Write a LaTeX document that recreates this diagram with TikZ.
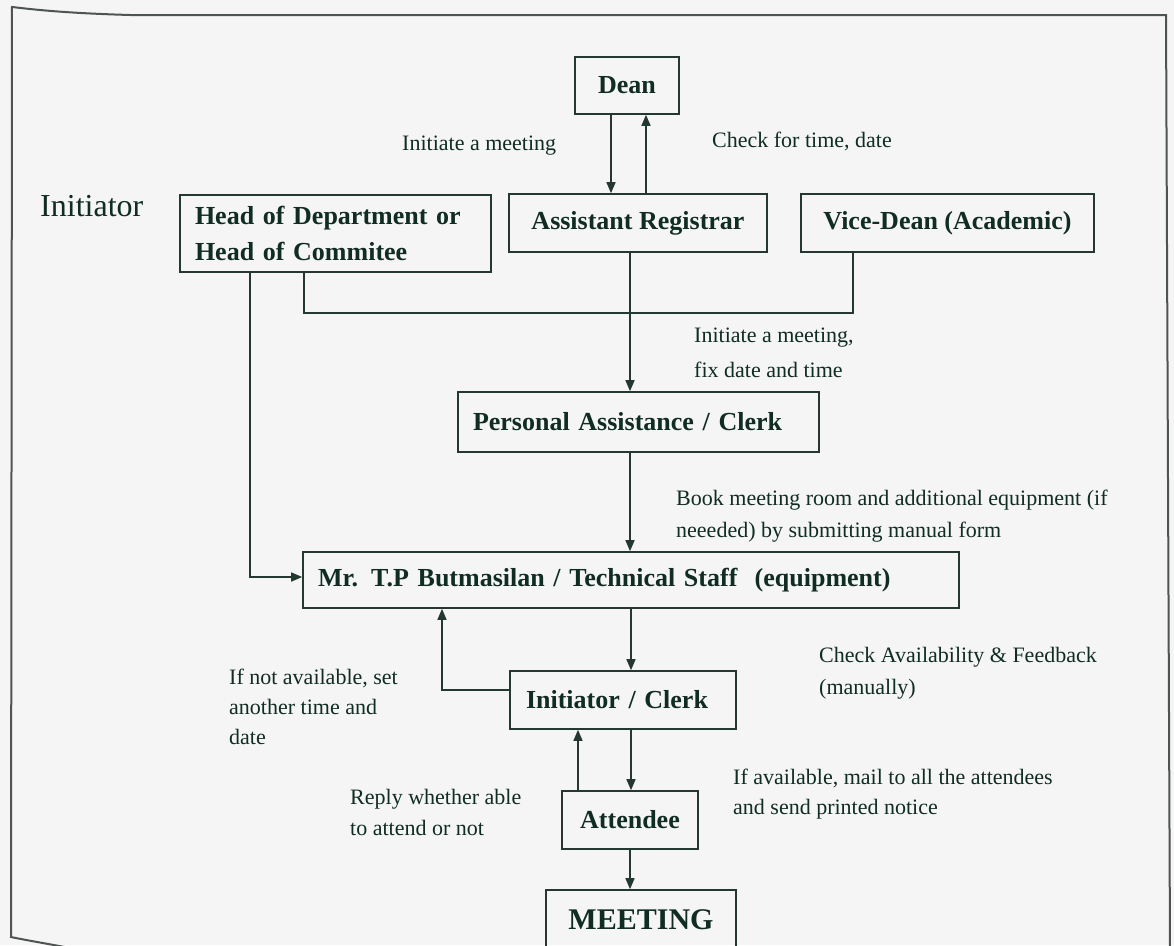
\documentclass[tikz,border=0pt]{standalone}
\usepackage{fontspec}
\setmainfont{Liberation Serif}
\usetikzlibrary{arrows.meta}

\definecolor{paper}{RGB}{244,245,244}
\definecolor{ink}{RGB}{16,44,35}
\definecolor{wire}{RGB}{36,56,48}
\definecolor{edge}{RGB}{78,84,82}

\tikzset{
  box/.style={draw=wire, line width=1.6pt, rectangle, inner ysep=0pt,
    text=ink, font=\fontsize{26}{34}\selectfont\bfseries},
  boxl/.style={box, align=left, inner xsep=15pt},
  % multi-line notes are placed by the baseline of their last line
  lbl/.style={inner sep=0pt, anchor=base west, align=left, text=ink,
    font=\fontsize{22}{32}\selectfont},
  link/.style={draw=wire, line width=1.4pt},
  arr/.style={link, -{Triangle[length=11pt,width=9pt]}}
}

\begin{document}
\begin{tikzpicture}[x=1pt,y=-1pt]
  % page and frame
  \fill[paper] (0,0) rectangle (1174,945);
  \useasboundingbox (0,0) rectangle (1174,945);
  \begin{scope}
    \clip (0,0) rectangle (1174,945);
    \draw[edge, line width=2pt]
      (1170,950) -- (1166,15) -- (130,15) .. controls (60,13) and (30,9) .. (12,7)
      -- (11,937) .. controls (30,941) and (50,944) .. (80,950);
  \end{scope}

  % boxes
  \node[box, minimum width=104pt, minimum height=57pt] (dean) at (627,85.5) {Dean};
  \node[boxl, text width=281pt, minimum height=77pt,
    font=\fontsize{26}{36}\selectfont\bfseries] (hod) at (335.5,233.5)
    {Head of Department or\\Head of Commitee};
  \node[box, minimum width=258pt, minimum height=58pt] (ar) at (638,223) {Assistant Registrar};
  \node[box, minimum width=293pt, minimum height=58pt] (vd) at (947.5,223) {Vice-Dean (Academic)};
  \node[boxl, text width=331pt, minimum height=60pt] (pa) at (638.5,422)
    {Personal Assistance / Clerk};
  \node[boxl, text width=626pt, minimum height=56pt] (mr) at (631,580)
    {Mr. T.P Butmasilan / Technical Staff \ (equipment)};
  \node[boxl, inner xsep=16pt, text width=194pt, minimum height=58pt] (ic) at (623,700)
    {Initiator / Clerk};
  \node[box, minimum width=136pt, minimum height=58pt] (att) at (630,820) {Attendee};
  \node[box, minimum width=190pt, minimum height=60pt,
    font=\fontsize{30}{34}\selectfont\bfseries] (meet) at (641,920) {MEETING};

  % side heading
  \node[inner sep=0pt, anchor=base west, text=ink, font=\fontsize{32}{36}\selectfont]
    (initiator) at (40,216) {Initiator};

  % connectors
  \draw[arr] ([xshift=-16pt]dean.south) -- ([xshift=-16pt]dean.south |- ar.north);
  \draw[arr] ([xshift=19pt]dean.south |- ar.north) -- ([xshift=19pt]dean.south);
  \draw[arr] ([xshift=-8pt]ar.south) -- ([xshift=-8pt]ar.south |- pa.north);
  \draw[link] ([xshift=-31.5pt]hod.south) -- ++(0,40) -| ([xshift=-94.5pt]vd.south);
  \draw[arr] ([xshift=-85.5pt]hod.south) |- ([yshift=3pt]mr.west);
  \draw[arr] ([xshift=-8.5pt]pa.south) -- ([xshift=-8.5pt]pa.south |- mr.north);
  \draw[arr] (mr.south) -- (mr.south |- ic.north);
  \draw[arr] ([yshift=10pt]ic.west) -| ([xshift=-189pt]mr.south);
  \draw[arr] ([xshift=8pt]ic.south) -- ([xshift=8pt]ic.south |- att.north);
  \draw[arr] ([xshift=-52pt]att.north) -- ([xshift=-52pt]att.north |- ic.south);
  \draw[arr] (att.south) -- (att.south |- meet.north);

  % connector notes
  \node[lbl] (n1) at (402,150) {Initiate a meeting};
  \node[lbl] (n2) at (712,147) {Check for time, date};
  \node[lbl, font=\fontsize{22}{35}\selectfont] (n3) at (694,377)
    {Initiate a meeting,\\fix date and time};
  \node[lbl] (n4) at (676,537)
    {Book meeting room and additional equipment (if\\neeeded) by submitting manual form};
  \node[lbl] (n5) at (819,694) {Check Availability \& Feedback\\(manually)};
  \node[lbl, font=\fontsize{22}{30}\selectfont] (n6) at (229,744)
    {If not available, set\\another time and\\date};
  \node[lbl, font=\fontsize{22}{31}\selectfont] (n7) at (350,835)
    {Reply whether able\\to attend or not};
  \node[lbl, font=\fontsize{22}{30}\selectfont] (n8) at (733,814)
    {If available, mail to all the attendees\\and send printed notice};
\end{tikzpicture}
\end{document}
